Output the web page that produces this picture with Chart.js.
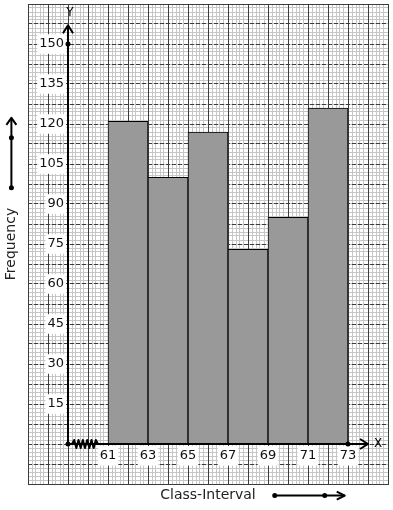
<!DOCTYPE html>
<html>
<head>
<meta charset="utf-8">
<script src="https://cdn.jsdelivr.net/npm/chart.js@4"></script>
<style>
  html, body { margin: 0; padding: 0; background: #fff; }
  #wrap { width: 393px; height: 510px; position: relative; }
</style>
</head>
<body>
<div id="wrap"><canvas id="chart"></canvas></div>
<script>
// class boundaries (also the x tick labels) and the frequency of each class
const classEdges = [61, 63, 65, 67, 69, 71, 73];
const frequencies = [121, 100, 117, 73, 85, 126];
const yTickValues = [15, 30, 45, 60, 75, 90, 105, 120, 135, 150];

// graph paper range, the axis origin sits at x = 59 (with a break mark)
const X_MIN = 57, X_MAX = 75, X_ORIGIN = 59, X_ARROW = 74;
const Y_MIN = -15, Y_MAX = 165, Y_ARROW = 157;
const Y_DOT = 150;
// y labels are anchored a little left of the axis line (padding is ignored there)
const Y_LABEL_AT = 58.8;

const FONT = 'DejaVu Sans';
const MINOR = '#c6c6c6';
const MAJOR = '#3c3c3c';

const bars = frequencies.map((f, i) => ({ x: (classEdges[i] + classEdges[i + 1]) / 2, y: f }));

const hidden = { display: false };

const labelTicks = {
    font: { family: FONT, size: 13 },
    color: '#111',
    showLabelBackdrop: true,
    backdropColor: '#fff',
    backdropPadding: 2,
};

// labels sit inside the plot, so they must not push the chart area in
const noPadding = s => { s.paddingTop = 0; s.paddingBottom = 0; s.paddingLeft = 0; s.paddingRight = 0; };

function dot(ctx, x, y) {
    ctx.beginPath();
    ctx.arc(x, y, 2.5, 0, Math.PI * 2);
    ctx.fill();
}

function poly(ctx, pts) {
    ctx.beginPath();
    ctx.moveTo(pts[0][0], pts[0][1]);
    pts.slice(1).forEach(p => ctx.lineTo(p[0], p[1]));
    ctx.stroke();
}

// axis lines, arrows, break mark and the arrows beside the axis titles
const axisDecor = {
    id: 'axisDecor',
    afterDatasetsDraw(chart) {
        const { ctx, chartArea } = chart;
        const { x, y } = chart.scales;
        const ox = x.getPixelForValue(X_ORIGIN);
        const oy = y.getPixelForValue(0);
        const tipY = y.getPixelForValue(Y_ARROW);
        const tipX = x.getPixelForValue(X_ARROW);

        ctx.save();
        ctx.strokeStyle = '#000';
        ctx.fillStyle = '#000';
        ctx.lineWidth = 2;
        ctx.lineJoin = 'round';

        // Y axis
        poly(ctx, [[ox, oy], [ox, tipY]]);
        poly(ctx, [[ox - 5, tipY + 8], [ox, tipY], [ox + 5, tipY + 8]]);
        // X axis
        poly(ctx, [[ox, oy], [tipX, oy]]);
        poly(ctx, [[tipX - 8, oy - 5], [tipX, oy], [tipX - 8, oy + 5]]);

        dot(ctx, ox, oy);
        dot(ctx, ox, y.getPixelForValue(Y_DOT));
        dot(ctx, x.getPixelForValue(classEdges[classEdges.length - 1]), oy);

        // break mark between origin and first class
        const z0 = ox + 4, z1 = x.getPixelForValue(classEdges[0]) - 10;
        const zig = [[z0, oy]];
        const n = 12;
        for (let i = 1; i < n; i++) {
            zig.push([z0 + (z1 - z0) * i / n, oy + (i % 2 ? -4 : 4)]);
        }
        zig.push([z1, oy]);
        poly(ctx, zig);

        ctx.font = '12px "' + FONT + '"';
        ctx.textAlign = 'center';
        ctx.textBaseline = 'middle';
        ctx.fillText('Y', ox + 2, tipY - 12);
        ctx.fillText('X', tipX + 10, oy);

        // title arrows
        ctx.font = '14px "' + FONT + '"';
        const fHalf = ctx.measureText(y.options.title.text).width / 2;
        const fx = y.left + 8.4;
        const fy = (chartArea.top + chartArea.bottom) / 2;
        const fs = fy - fHalf - 20;
        poly(ctx, [[fx, fs], [fx, fs - 70]]);
        poly(ctx, [[fx - 5, fs - 63], [fx, fs - 70], [fx + 5, fs - 63]]);
        dot(ctx, fx, fs);
        dot(ctx, fx, fs - 50);

        const cHalf = ctx.measureText(x.options.title.text).width / 2;
        const cx = (chartArea.left + chartArea.right) / 2;
        const cy = x.bottom - 8.4;
        const cs = cx + cHalf + 19;
        poly(ctx, [[cs, cy], [cs + 70, cy]]);
        poly(ctx, [[cs + 62, cy - 4], [cs + 70, cy], [cs + 62, cy + 4]]);
        dot(ctx, cs, cy);
        dot(ctx, cs + 50, cy);

        ctx.restore();
    }
};

new Chart(document.getElementById('chart'), {
    type: 'bar',
    data: {
        datasets: [{
            data: bars,
            backgroundColor: '#999999',
            borderColor: '#000',
            borderWidth: 1,
            borderSkipped: 'start',
            barPercentage: 1,
            categoryPercentage: 1,
            xAxisID: 'xLabels',
            yAxisID: 'y',
        }]
    },
    options: {
        responsive: true,
        maintainAspectRatio: false,
        animation: false,
        devicePixelRatio: 1,
        layout: { padding: { left: 3, top: 4, right: 5, bottom: 6 } },
        plugins: { legend: hidden, tooltip: { enabled: false } },
        scales: {
            // major graph paper lines
            x: {
                type: 'linear', position: 'bottom', min: X_MIN, max: X_MAX, offset: false,
                ticks: { display: false, stepSize: 1 },
                grid: { color: MAJOR, lineWidth: 1, drawTicks: false, offset: false, z: -1 },
                border: { display: true, color: MAJOR, width: 1 },
                title: {
                    display: true, text: 'Class-Interval', color: '#222',
                    font: { family: FONT, size: 14 }, padding: { top: 3.2, bottom: 0 }
                },
            },
            y: {
                type: 'linear', position: 'left', min: Y_MIN, max: Y_MAX,
                ticks: { display: false, stepSize: 7.5 },
                grid: { color: MAJOR, lineWidth: 1, drawTicks: false, z: -1 },
                border: { display: false, dash: [4, 2] },
                title: {
                    display: true, text: 'Frequency', color: '#222',
                    font: { family: FONT, size: 14 }, padding: { top: 0, bottom: 8.2 }
                },
            },
            // minor graph paper lines
            xMinor: {
                type: 'linear', position: 'top', min: X_MIN, max: X_MAX, offset: false,
                ticks: { display: false, stepSize: 0.2 },
                grid: { color: MINOR, lineWidth: 1, drawTicks: false, offset: false, z: -2 },
                border: { display: true, color: MAJOR, width: 1 },
            },
            yMinor: {
                type: 'linear', position: 'right', min: Y_MIN, max: Y_MAX,
                ticks: { display: false, stepSize: 1.5 },
                grid: { color: MINOR, lineWidth: 1, drawTicks: false, z: -2 },
                border: { display: true, color: MAJOR, width: 1 },
            },
            // labelled axes through the origin
            xLabels: {
                type: 'linear', position: { y: 0 }, min: X_MIN, max: X_MAX, offset: false,
                afterBuildTicks: s => { s.ticks = classEdges.map(v => ({ value: v })); },
                afterFit: noPadding,
                ticks: { ...labelTicks, padding: -4, autoSkip: false, maxRotation: 0 },
                grid: { display: false, offset: false },
                border: { display: false },
            },
            yLabels: {
                type: 'linear', position: { x: Y_LABEL_AT }, min: Y_MIN, max: Y_MAX,
                afterBuildTicks: s => { s.ticks = yTickValues.map(v => ({ value: v })); },
                afterFit: noPadding,
                ticks: { ...labelTicks, autoSkip: false },
                grid: { display: false },
                border: { display: false },
            },
        }
    },
    plugins: [axisDecor]
});
</script>
</body>
</html>
